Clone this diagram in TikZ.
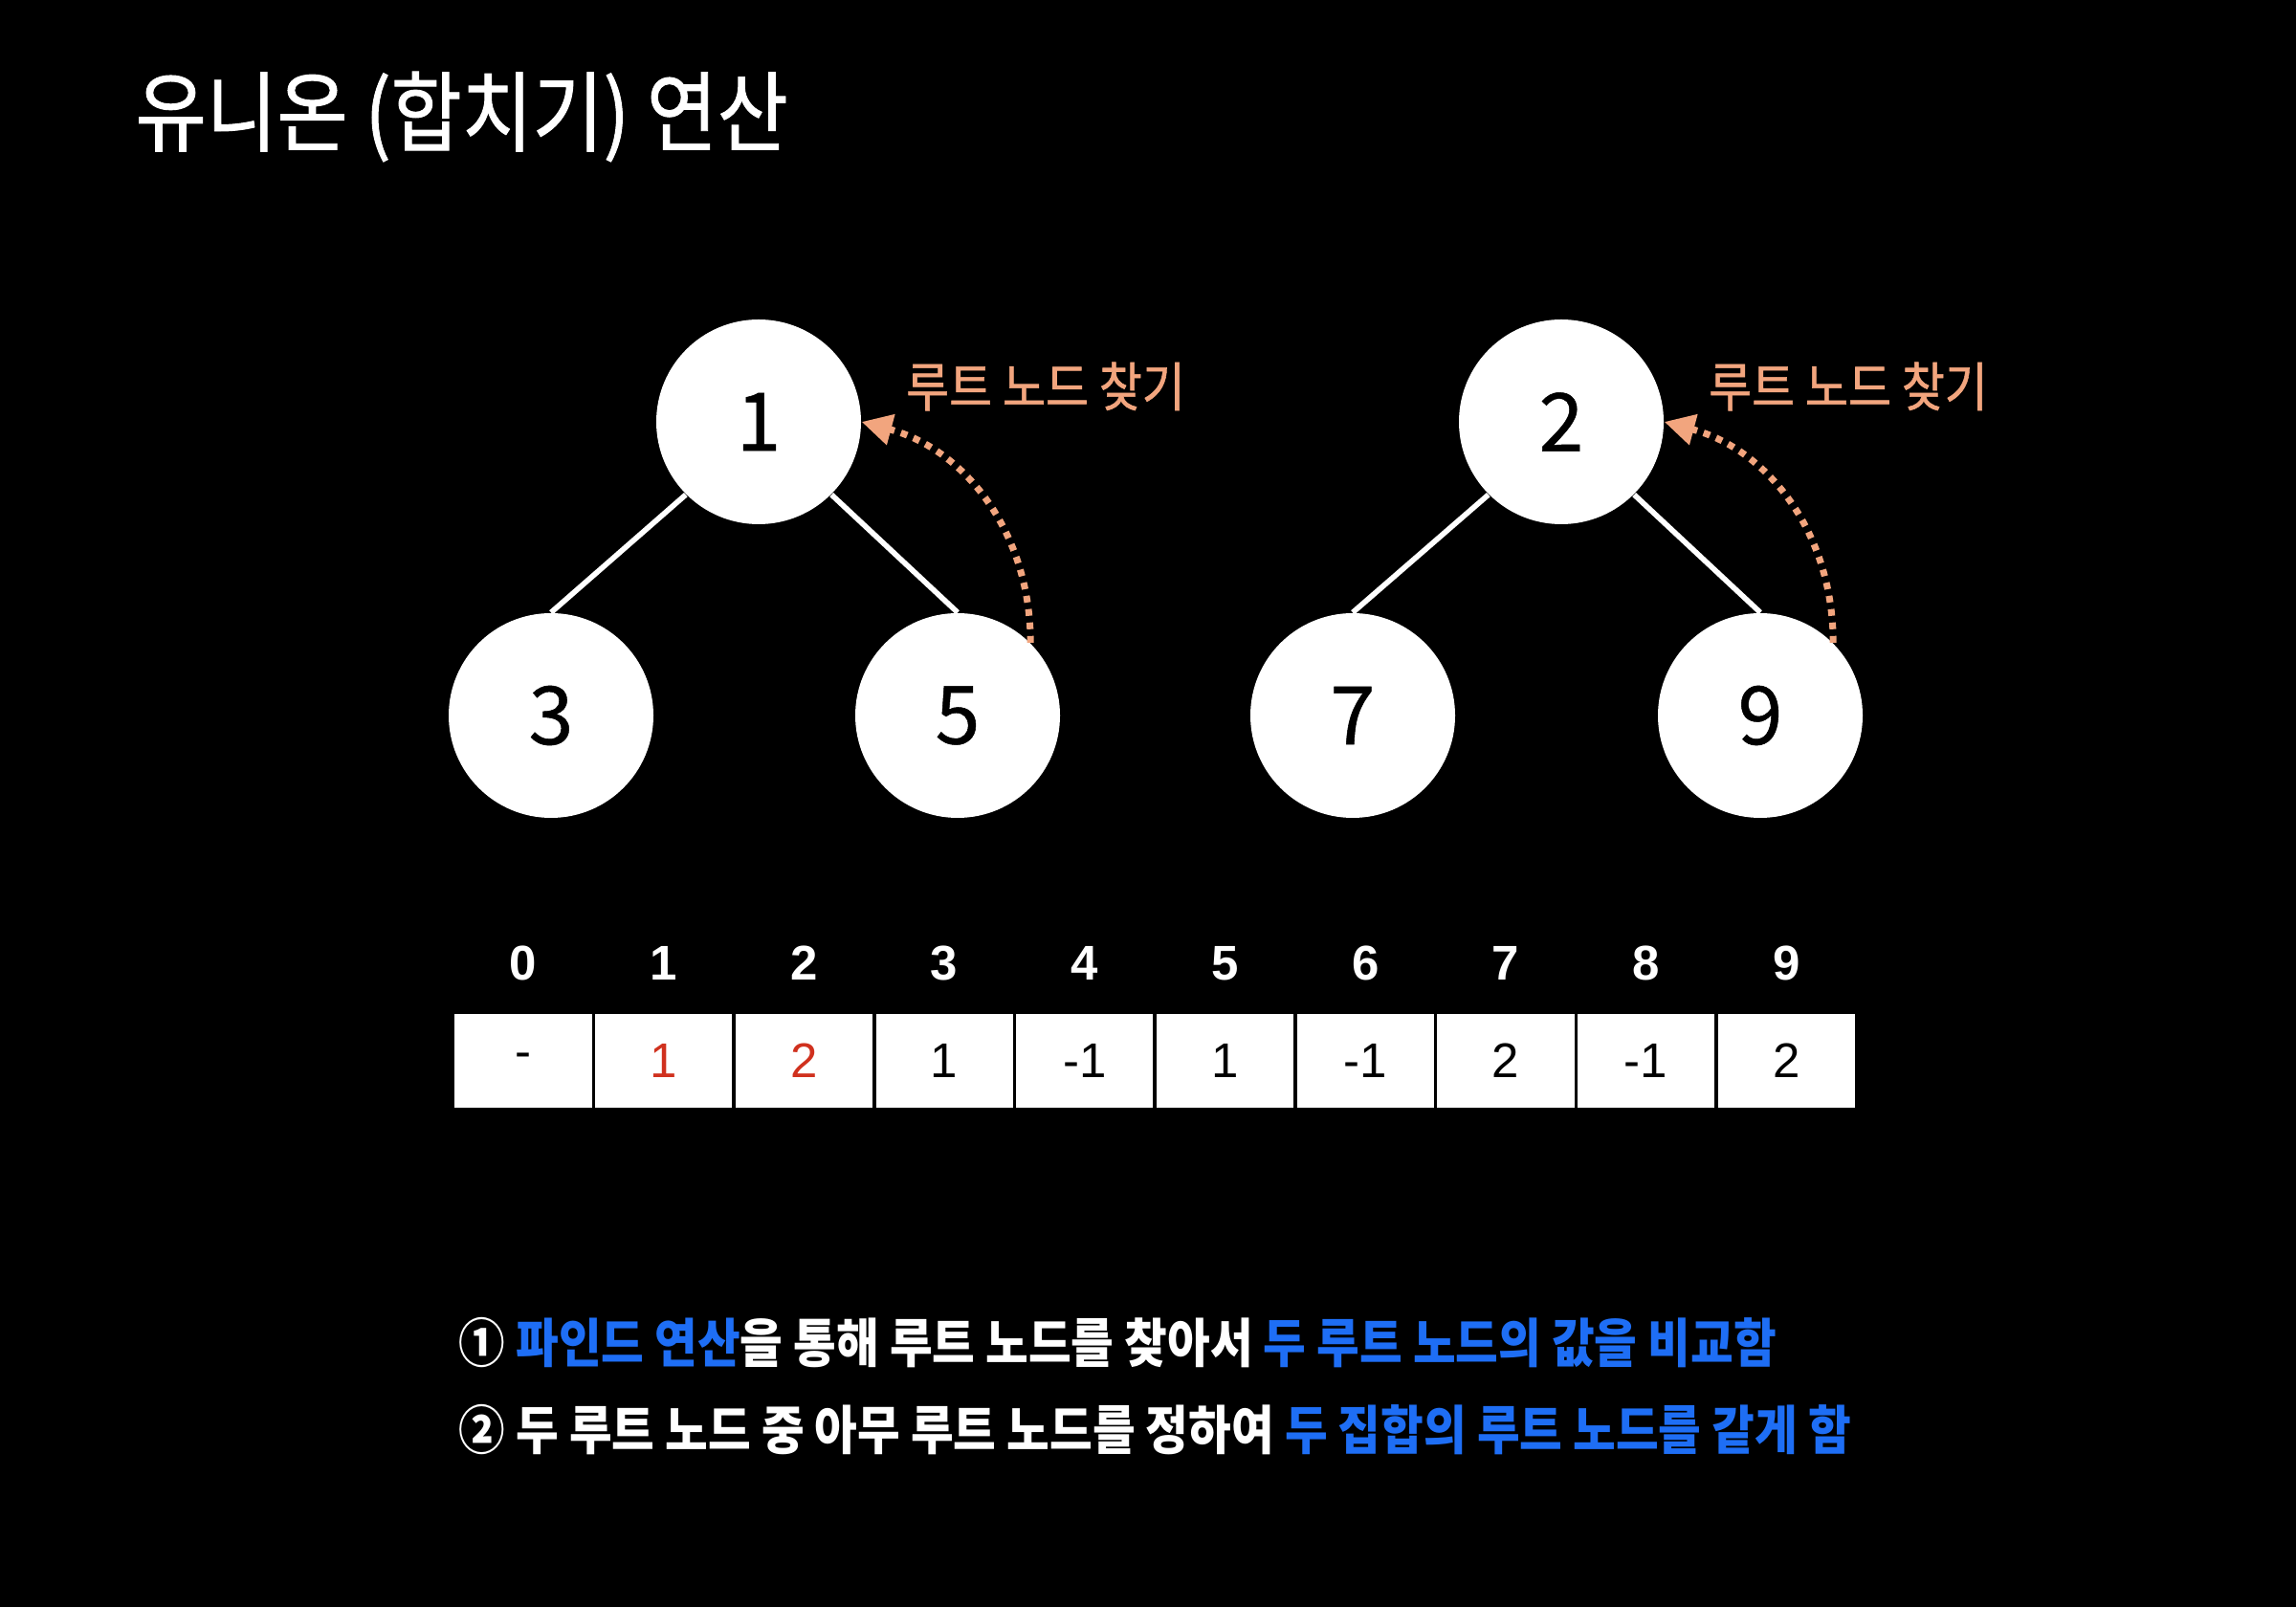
\documentclass[tikz,border=0pt]{standalone}
\usepackage{fontspec}
\setmainfont{Liberation Sans}
\newfontfamily\krfont[FakeBold=0.6]{Noto Sans CJK KR}
\newfontfamily\krtight[FakeStretch=0.88]{Noto Sans CJK KR}
\newfontfamily\krmedium[FakeStretch=0.88, FakeBold=1]{Noto Sans CJK KR}
\usetikzlibrary{arrows.meta,positioning}

\definecolor{rootorange}{HTML}{F2A57E}
\definecolor{hlblue}{HTML}{1E6EF5}
\definecolor{valred}{HTML}{D0311E}

\tikzset{
  treenode/.style={circle, fill=white, minimum size=2.14cm, inner sep=0pt, font=\krfont\fontsize{24}{24}\selectfont},
  treeedge/.style={draw=white, line width=1.6pt},
  findarrow/.style={draw=rootorange, line width=2pt, dash pattern=on 2pt off 2pt, -{Triangle[length=9pt,width=9pt]}},
  findlabel/.style={text=rootorange, font=\krmedium\fontsize{15.8}{15.8}\selectfont},
  cell/.style={rectangle, fill=white, draw=black, line width=1pt, outer sep=0pt, minimum width=1.467cm, minimum height=1.02cm, inner sep=0pt, font=\fontsize{14.5}{14.5}\selectfont},
  idx/.style={text=white, font=\bfseries\fontsize{14.5}{14.5}\selectfont},
  note/.style={anchor=west, text=white, inner sep=0pt, font=\krtight\bfseries\fontsize{15.7}{15.7}\selectfont}
}

\begin{document}
\begin{tikzpicture}
        % Background
        \fill[black] (0,0) rectangle (24,16.8);
        \useasboundingbox (0,0) rectangle (24,16.8);

        % Title
        \node[anchor=west, text=white, inner sep=0pt, font=\krmedium\fontsize{26}{26}\selectfont] (title) at (1.41,15.58) {유니온 (합치기) 연산};

        % Left tree
        \node[treenode] (n1) at (7.93,12.39) {1};
        \node[treenode] (n3) at (5.76,9.32) {3};
        \node[treenode] (n5) at (10.01,9.32) {5};
        \draw[treeedge] (n1.225) -- (n3.north);
        \draw[treeedge] (n1.-45) -- (n5.north);

        % Right tree
        \node[treenode] (n2) at (16.32,12.39) {2};
        \node[treenode] (n7) at (14.14,9.32) {7};
        \node[treenode] (n9) at (18.40,9.32) {9};
        \draw[treeedge] (n2.225) -- (n7.north);
        \draw[treeedge] (n2.-45) -- (n9.north);

        % Find root arrows
        \node[findlabel] (find1) at (10.93,12.76) {루트 노드 찾기};
        \node[findlabel] (find2) at (19.32,12.76) {루트 노드 찾기};
        \draw[findarrow] (n5.45) to[out=90, in=-15] (n1.east);
        \draw[findarrow] (n9.45) to[out=90, in=-15] (n2.east);

        % Parent array
        \node[cell] (c0) at (5.47,5.71) {-};
        \node[cell, right=0pt of c0] (c1) {\textcolor{valred}{1}};
        \node[cell, right=0pt of c1] (c2) {\textcolor{valred}{2}};
        \node[cell, right=0pt of c2] (c3) {1};
        \node[cell, right=0pt of c3] (c4) {-1};
        \node[cell, right=0pt of c4] (c5) {1};
        \node[cell, right=0pt of c5] (c6) {-1};
        \node[cell, right=0pt of c6] (c7) {2};
        \node[cell, right=0pt of c7] (c8) {-1};
        \node[cell, right=0pt of c8] (c9) {2};

        % Index labels
        \node[idx] (i0) at ([yshift=0.51cm]c0.north) {0};
        \node[idx] (i1) at ([yshift=0.51cm]c1.north) {1};
        \node[idx] (i2) at ([yshift=0.51cm]c2.north) {2};
        \node[idx] (i3) at ([yshift=0.51cm]c3.north) {3};
        \node[idx] (i4) at ([yshift=0.51cm]c4.north) {4};
        \node[idx] (i5) at ([yshift=0.51cm]c5.north) {5};
        \node[idx] (i6) at ([yshift=0.51cm]c6.north) {6};
        \node[idx] (i7) at ([yshift=0.51cm]c7.north) {7};
        \node[idx] (i8) at ([yshift=0.51cm]c8.north) {8};
        \node[idx] (i9) at ([yshift=0.51cm]c9.north) {9};

        % Steps
        \node[note] (step1) at (4.79,2.76) {① \textcolor{hlblue}{파인드 연산}을 통해 루트 노드를 찾아서 \textcolor{hlblue}{두 루트 노드의 값을 비교함}};
        \node[note] (step2) at (4.79,1.85) {② 두 루트 노드 중 아무 루트 노드를 정하여 \textcolor{hlblue}{두 집합의 루트 노드를 같게 함}};
    \end{tikzpicture}
\end{document}
